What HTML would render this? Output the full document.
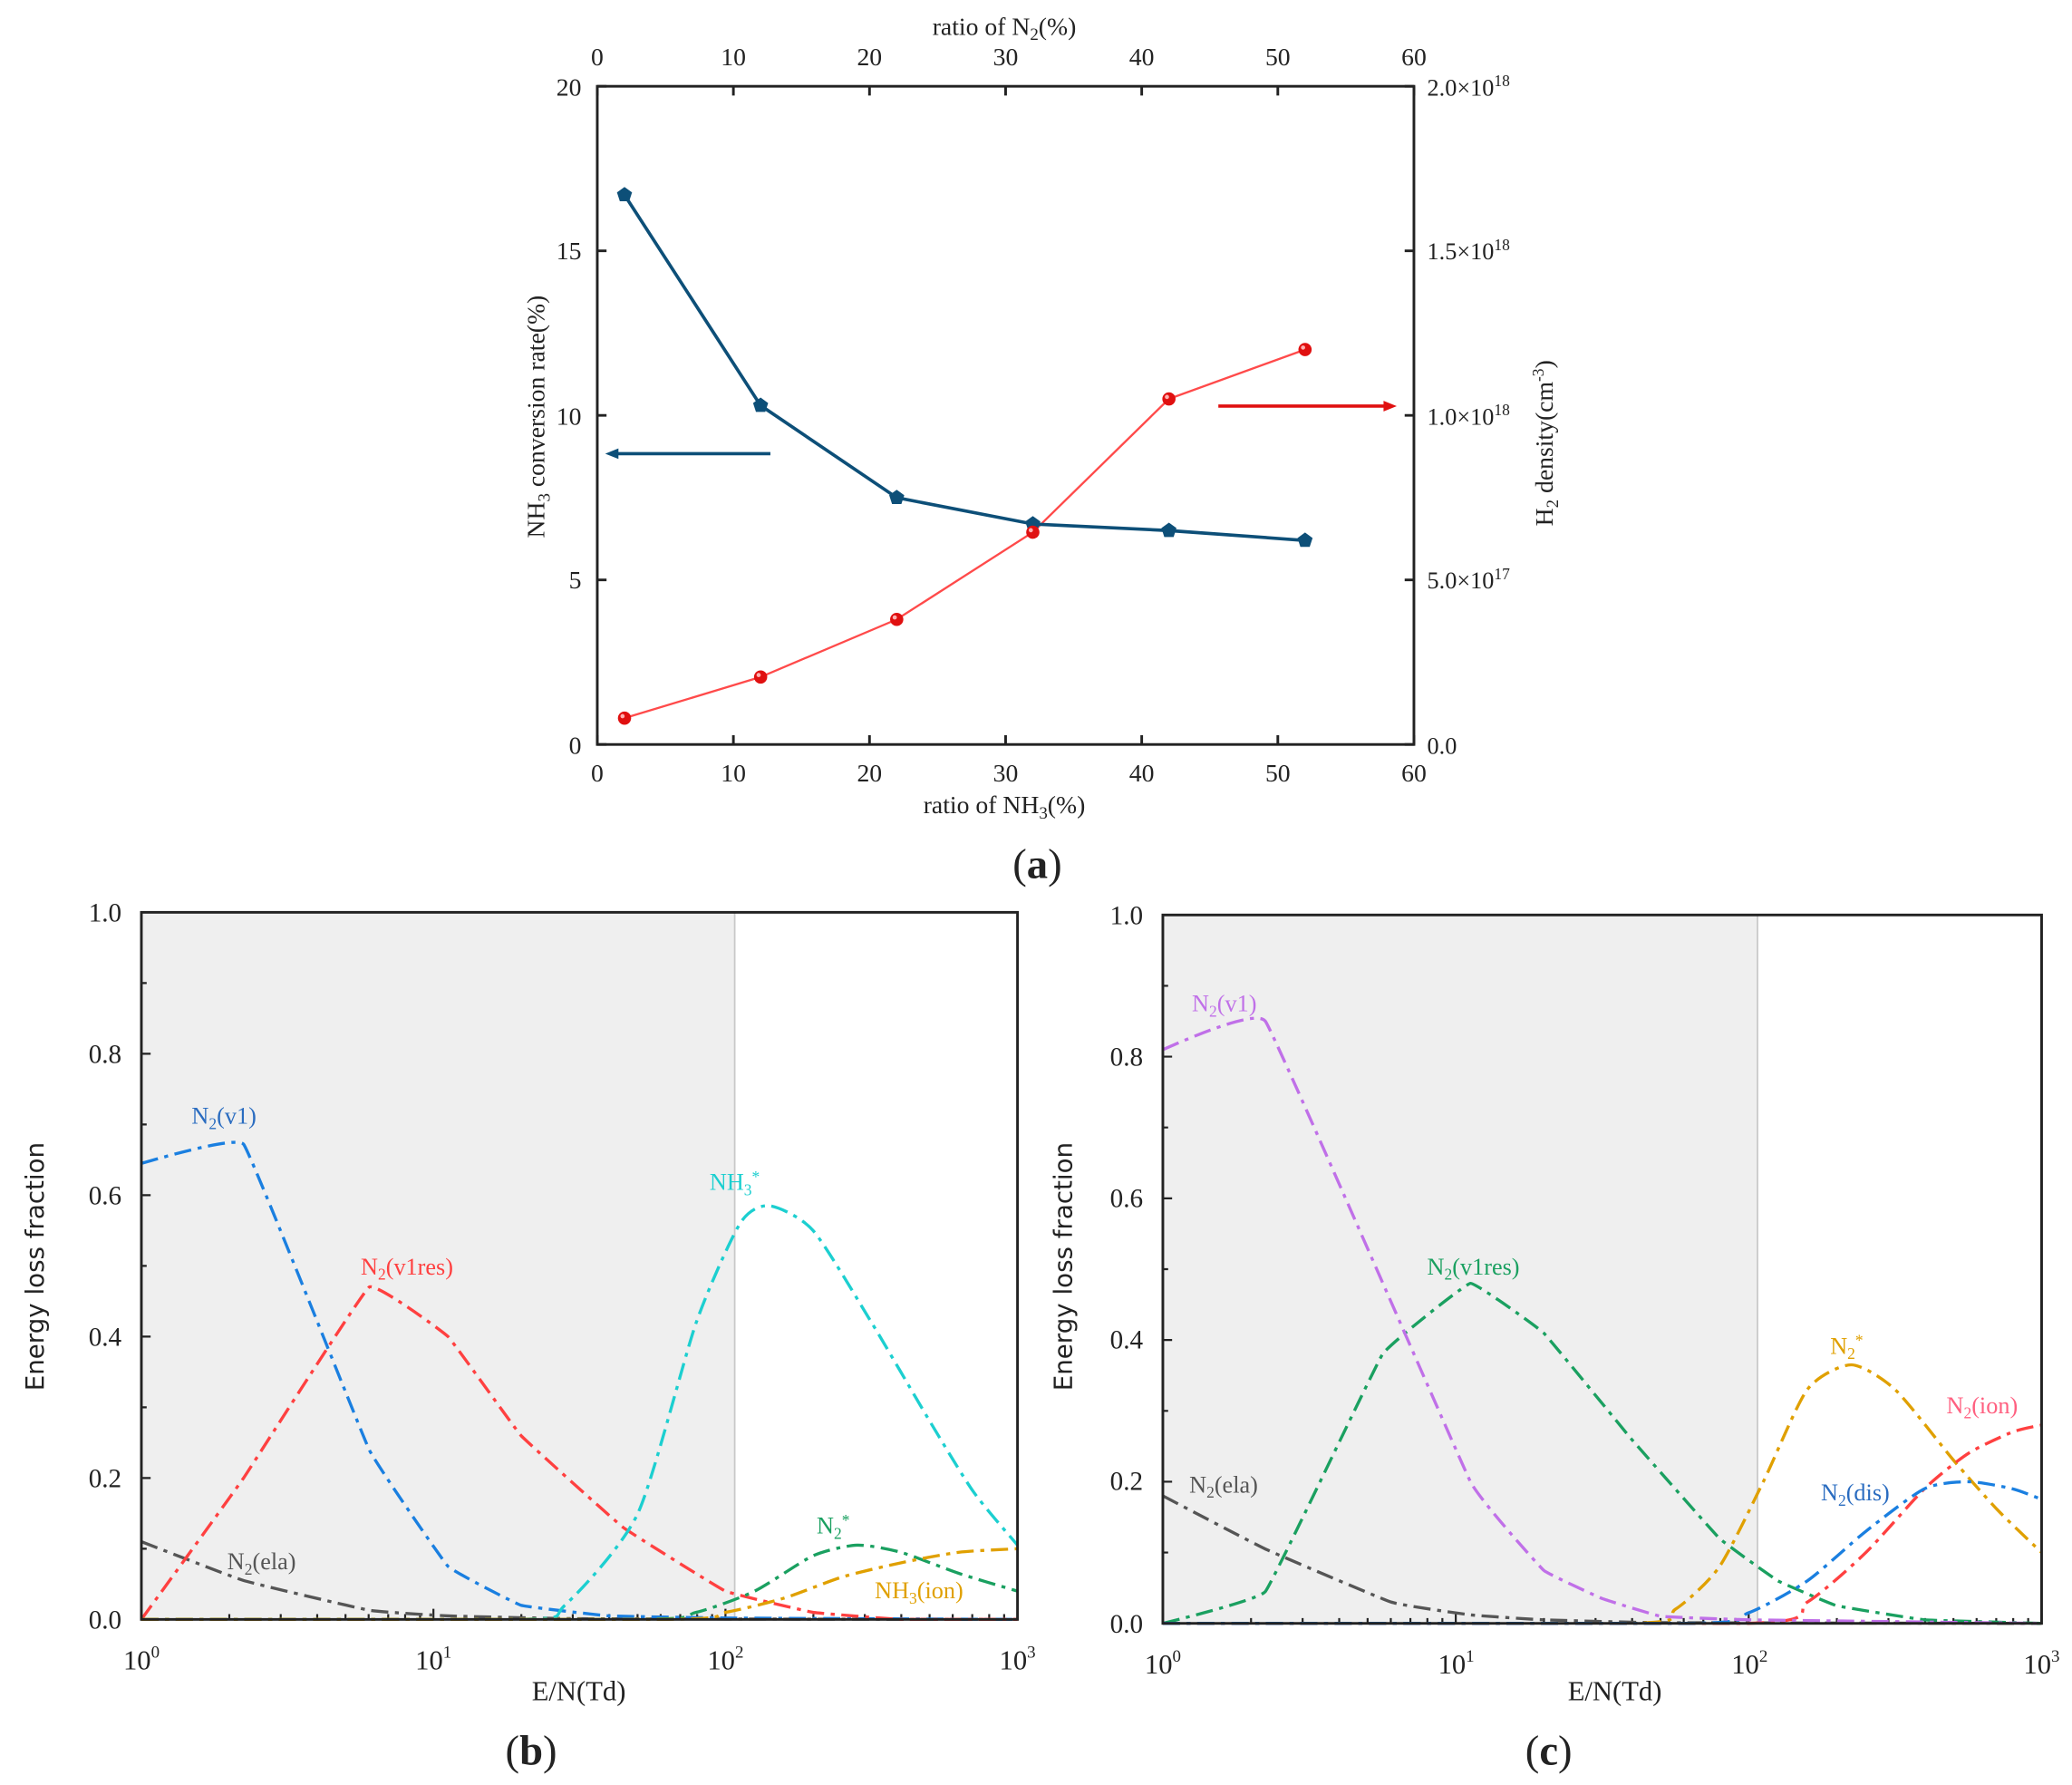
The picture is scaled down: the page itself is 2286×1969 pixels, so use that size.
<!DOCTYPE html>
<html><head><meta charset="utf-8"><style>
html,body{margin:0;padding:0;background:#fff}
svg{display:block}
text{font-family:"Liberation Serif",serif;fill:#222}
.s{font-family:"DejaVu Sans","Liberation Sans",sans-serif}
</style></head><body>
<svg id="S" width="2286" height="1969" viewBox="0 0 1568 1350" xmlns="http://www.w3.org/2000/svg">
<rect width="1568" height="1350" fill="#fff"/>
<g id="A"></g>
<g font-size="19" text-anchor="middle">
<text x="452" y="49">0</text><text x="555" y="49">10</text><text x="658" y="49">20</text><text x="761" y="49">30</text><text x="864" y="49">40</text><text x="967" y="49">50</text><text x="1070" y="49">60</text>
<text x="452" y="591">0</text><text x="555" y="591">10</text><text x="658" y="591">20</text><text x="761" y="591">30</text><text x="864" y="591">40</text><text x="967" y="591">50</text><text x="1070" y="591">60</text>
<text x="760" y="26">ratio of  N<tspan font-size="13" dy="4">2</tspan><tspan dy="-4">(%)</tspan></text>
<text x="760" y="615">ratio of NH<tspan font-size="13" dy="4">3</tspan><tspan dy="-4">(%)</tspan></text>
</g>
<g font-size="19" text-anchor="end">
<text x="440" y="72">20</text><text x="440" y="196">15</text><text x="440" y="321">10</text><text x="440" y="445">5</text><text x="440" y="570">0</text>
</g>
<g font-size="18">
<text x="1080" y="72">2.0×10<tspan font-size="12" dy="-7">18</tspan></text>
<text x="1080" y="196">1.5×10<tspan font-size="12" dy="-7">18</tspan></text>
<text x="1080" y="321">1.0×10<tspan font-size="12" dy="-7">18</tspan></text>
<text x="1080" y="445">5.0×10<tspan font-size="12" dy="-7">17</tspan></text>
<text x="1080" y="570">0.0</text>
</g>
<text font-size="19" text-anchor="middle" transform="translate(412,315) rotate(-90)">NH<tspan font-size="13" dy="4">3</tspan><tspan dy="-4"> conversion rate(%)</tspan></text>
<text font-size="19" text-anchor="middle" transform="translate(1175,335) rotate(-90)">H<tspan font-size="13" dy="4">2</tspan><tspan dy="-4"> density(cm</tspan><tspan font-size="12" dy="-7">-3</tspan><tspan dy="7">)</tspan></text>
<text x="785" y="664" font-size="32" text-anchor="middle">(<tspan font-weight="bold">a</tspan>)</text>

<g id="B"></g><g id="C"></g>
<g font-size="20" text-anchor="end">
<text x="92" y="697">1.0</text><text x="92" y="804">0.8</text><text x="92" y="911">0.6</text><text x="92" y="1018">0.4</text><text x="92" y="1125">0.2</text><text x="92" y="1232">0.0</text>
<text x="865" y="699">1.0</text><text x="865" y="806">0.8</text><text x="865" y="913">0.6</text><text x="865" y="1020">0.4</text><text x="865" y="1127">0.2</text><text x="865" y="1235">0.0</text>
</g>
<g font-size="21" text-anchor="middle">
<text x="107" y="1263">10<tspan font-size="13" dy="-9">0</tspan></text><text x="328" y="1263">10<tspan font-size="13" dy="-9">1</tspan></text><text x="549" y="1263">10<tspan font-size="13" dy="-9">2</tspan></text><text x="770" y="1263">10<tspan font-size="13" dy="-9">3</tspan></text>
<text x="880" y="1266">10<tspan font-size="13" dy="-9">0</tspan></text><text x="1102" y="1266">10<tspan font-size="13" dy="-9">1</tspan></text><text x="1324" y="1266">10<tspan font-size="13" dy="-9">2</tspan></text><text x="1545" y="1266">10<tspan font-size="13" dy="-9">3</tspan></text>
<text x="438" y="1286">E/N(Td)</text><text x="1222" y="1286">E/N(Td)</text>
</g>
<text class="s" font-size="19" text-anchor="middle" transform="translate(33,958) rotate(-90)">Energy loss fraction</text>
<text class="s" font-size="19" text-anchor="middle" transform="translate(811,958) rotate(-90)">Energy loss fraction</text>
<text x="402" y="1335" font-size="32" text-anchor="middle">(<tspan font-weight="bold">b</tspan>)</text>
<text x="1172" y="1335" font-size="32" text-anchor="middle">(<tspan font-weight="bold">c</tspan>)</text>
<g font-size="18">
<text x="145" y="850" style="fill:#2a6cc0">N<tspan font-size="12" dy="4">2</tspan><tspan dy="-4">(v1)</tspan></text>
<text x="273" y="964" style="fill:#ff4040">N<tspan font-size="12" dy="4">2</tspan><tspan dy="-4">(v1res)</tspan></text>
<text x="537" y="900" style="fill:#1ccfd0">NH<tspan font-size="12" dy="4">3</tspan><tspan font-size="12" dy="-10">*</tspan></text>
<text x="618" y="1160" style="fill:#1aa060">N<tspan font-size="12" dy="4">2</tspan><tspan font-size="12" dy="-10">*</tspan></text>
<text x="662" y="1209" style="fill:#e0a000">NH<tspan font-size="12" dy="4">3</tspan><tspan dy="-4">(ion)</tspan></text>
<text x="172" y="1187" style="fill:#555">N<tspan font-size="12" dy="4">2</tspan><tspan dy="-4">(ela)</tspan></text>
<text x="902" y="765" style="fill:#c070e8">N<tspan font-size="12" dy="4">2</tspan><tspan dy="-4">(v1)</tspan></text>
<text x="1080" y="964" style="fill:#1aa060">N<tspan font-size="12" dy="4">2</tspan><tspan dy="-4">(v1res)</tspan></text>
<text x="1385" y="1024" style="fill:#e0a000">N<tspan font-size="12" dy="4">2</tspan><tspan font-size="12" dy="-10">*</tspan></text>
<text x="1473" y="1069" style="fill:#ff6080">N<tspan font-size="12" dy="4">2</tspan><tspan dy="-4">(ion)</tspan></text>
<text x="1378" y="1135" style="fill:#2a6cc0">N<tspan font-size="12" dy="4">2</tspan><tspan dy="-4">(dis)</tspan></text>
<text x="900" y="1129" style="fill:#555">N<tspan font-size="12" dy="4">2</tspan><tspan dy="-4">(ela)</tspan></text>
</g>
</svg>
<script>
const NS="http://www.w3.org/2000/svg";
function el(p,t,a){const e=document.createElementNS(NS,t);for(const k in a)e.setAttribute(k,a[k]);p.appendChild(e);return e;}
const A=document.getElementById('A');
const ax=v=>452+v*10.3, ay=v=>563-v*24.9;
let t='';
for(let i=0;i<=60;i+=10){const x=ax(i);t+=`M${x} 563v-7M${x} 65v7`;}
for(let i=0;i<=20;i+=5){const y=ay(i);t+=`M452 ${y}h7M1070 ${y}h-7`;}
el(A,'path',{d:t,stroke:'#222','stroke-width':2,fill:'none'});
el(A,'rect',{x:452,y:65,width:618,height:498,fill:'none',stroke:'#222','stroke-width':2});
const xs=[2,12,22,32,42,52],bl=[16.7,10.3,7.5,6.7,6.5,6.2],rd=[0.8,2.05,3.8,6.45,10.5,12.0];
el(A,'polyline',{points:xs.map((x,i)=>ax(x)+','+ay(rd[i])).join(' '),fill:'none',stroke:'#ff4a4a','stroke-width':1.6});
el(A,'polyline',{points:xs.map((x,i)=>ax(x)+','+ay(bl[i])).join(' '),fill:'none',stroke:'#0d4f78','stroke-width':2.5});
xs.forEach((x,i)=>{const cx=ax(x),cy=ay(bl[i]),r=6;let p=[];for(let k=0;k<5;k++){const a=-Math.PI/2+k*2*Math.PI/5;p.push((cx+r*Math.cos(a))+','+(cy+r*Math.sin(a)));}
el(A,'polygon',{points:p.join(' '),fill:'#0d4f78'});
el(A,'circle',{cx:ax(x),cy:ay(rd[i]),r:5,fill:'#e01010'});el(A,'circle',{cx:ax(x)-1.5,cy:ay(rd[i])-1.5,r:1.6,fill:'#ffb0b0'});});
el(A,'path',{d:'M583 343H466',stroke:'#0d4f78','stroke-width':2.5});el(A,'path',{d:'M458 343l10 -4v8z',fill:'#0d4f78'});
el(A,'path',{d:'M922 307H1048',stroke:'#e01010','stroke-width':2.5});el(A,'path',{d:'M1057 307l-10 -4v8z',fill:'#e01010'});
function plot(g,X0,X1,Y0,Y1,shadeEnd,series){
 const sx=v=>X0+v*(X1-X0)/3, sy=v=>Y0-v*(Y0-Y1);
 el(g,'rect',{x:X0,y:Y1,width:shadeEnd-X0,height:Y0-Y1,fill:'#efefef'});
 el(g,'path',{d:`M${shadeEnd} ${Y1}V${Y0}`,stroke:'#c8c8c8','stroke-width':1.2});
 let d='';
 for(let dec=0;dec<3;dec++)for(let k=1;k<=10;k++){const x=sx(dec+Math.log10(k));d+=`M${x} ${Y0}v${k==1||k==10?-8:-4}`;}
 for(let i=0;i<=10;i++){const y=sy(i/10);d+=`M${X0} ${y}h${i%2==0?7:4}`;}
 el(g,'path',{d:d,stroke:'#222','stroke-width':1.5,fill:'none'});
 series.forEach(s=>{
  const P=s[1].map(p=>[sx(p[0]),sy(p[1])]);let q=`M${P[0][0]} ${P[0][1]}`;
  for(let i=0;i<P.length-1;i++){const p0=P[Math.max(0,i-1)],p1=P[i],p2=P[i+1],p3=P[Math.min(P.length-1,i+2)];
   let c1=[p1[0]+(p2[0]-p0[0])/6*s[2],p1[1]+(p2[1]-p0[1])/6*s[2]],c2=[p2[0]-(p3[0]-p1[0])/6*s[2],p2[1]-(p3[1]-p1[1])/6*s[2]];
   c1[1]=Math.min(c1[1],Y0);c2[1]=Math.min(c2[1],Y0);
   q+=`C${c1} ${c2} ${p2}`;}
  el(g,'path',{d:q,fill:'none',stroke:s[0],'stroke-width':2.3,'stroke-dasharray':'13,5,3,5'});
 });
 el(g,'rect',{x:X0,y:Y1,width:X1-X0,height:Y0-Y1,fill:'none',stroke:'#222','stroke-width':2});
}
plot(document.getElementById('B'),107,770,1225,690,556,[
 ['#555',[[0,0.11],[0.35,0.055],[0.78,0.013],[1.05,0.005],[1.5,0.001],[3,0]],0.3],
 ['#1a7fe0',[[0,0.645],[0.35,0.672],[0.78,0.24],[1.05,0.075],[1.3,0.02],[1.6,0.005],[2,0.002],[3,0]],0.2],
 ['#ff4040',[[0,0],[0.35,0.2],[0.78,0.47],[1.05,0.4],[1.3,0.26],[1.65,0.13],[2,0.04],[2.3,0.01],[2.6,0],[3,0]],0.2],
 ['#1ccfd0',[[0,0],[1.3,0],[1.45,0.02],[1.7,0.15],[1.9,0.42],[2.05,0.56],[2.15,0.585],[2.3,0.55],[2.5,0.42],[2.7,0.28],[2.85,0.18],[3,0.105]],0.7],
 ['#1aa060',[[0,0],[1.7,0],[1.9,0.01],[2.1,0.04],[2.3,0.09],[2.45,0.105],[2.6,0.095],[2.8,0.065],[3,0.04]],0.7],
 ['#e0a000',[[0,0],[1.8,0],[2,0.01],[2.2,0.03],[2.4,0.06],[2.6,0.08],[2.8,0.095],[3,0.1]],0.7]
]);
plot(document.getElementById('C'),880,1545,1228,692,1330,[
 ['#555',[[0,0.18],[0.35,0.105],[0.78,0.03],[1.05,0.012],[1.3,0.005],[1.7,0.001],[3,0]],0.3],
 ['#1aa060',[[0,0],[0.35,0.045],[0.75,0.38],[1.05,0.48],[1.3,0.41],[1.6,0.26],[1.9,0.12],[2.1,0.06],[2.3,0.025],[2.6,0.005],[3,0]],0.2],
 ['#e0a000',[[0,0],[1.6,0],[1.75,0.02],[1.9,0.08],[2.05,0.2],[2.2,0.33],[2.35,0.365],[2.5,0.33],[2.7,0.23],[2.85,0.16],[3,0.1]],0.7],
 ['#ff4040',[[0,0],[2,0],[2.2,0.03],[2.4,0.1],[2.6,0.19],[2.75,0.24],[2.9,0.27],[3,0.28]],0.7],
 ['#1a7fe0',[[0,0],[1.8,0],[2,0.015],[2.2,0.06],[2.4,0.13],[2.6,0.19],[2.75,0.2],[2.9,0.19],[3,0.175]],0.7],
 ['#c070e8',[[0,0.81],[0.35,0.85],[1.05,0.2],[1.3,0.075],[1.5,0.035],[1.7,0.01],[2,0.005],[3,0]],0.2]
]);
</script>
</body></html>
